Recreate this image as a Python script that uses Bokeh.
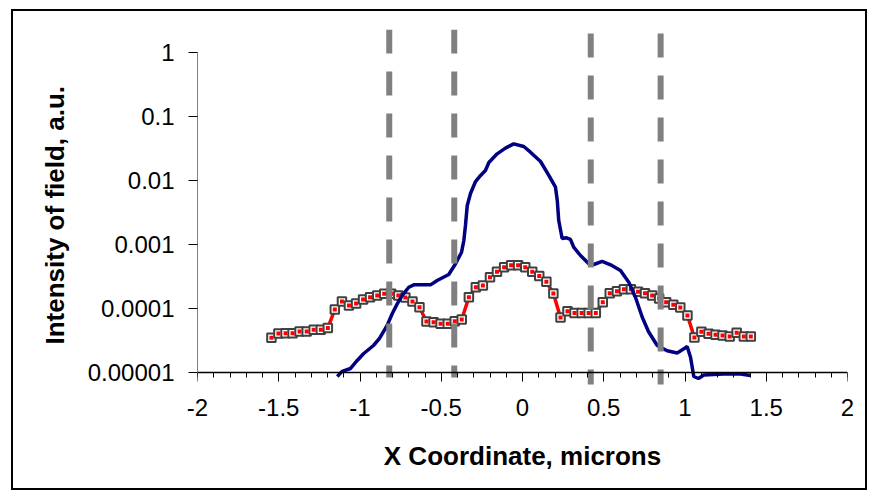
from bokeh.plotting import figure
from bokeh.models import (LinearAxis, LogAxis, FixedTicker, SingleIntervalTicker,
                          CustomJSTickFormatter, Range1d, InlineStyleSheet)
from bokeh.embed import file_html
from bokeh.resources import INLINE

# ---- data ----
red_x = [-1.545, -1.502, -1.458, -1.415, -1.372, -1.328, -1.285, -1.241, -1.198, -1.155,
         -1.111, -1.068, -1.024, -0.981, -0.938, -0.894, -0.851, -0.808, -0.764, -0.721,
         -0.677, -0.634, -0.591, -0.547, -0.504, -0.460, -0.417, -0.374, -0.330, -0.287,
         -0.244, -0.200, -0.157, -0.113, -0.070, -0.027, 0.017, 0.060, 0.103, 0.147,
         0.190, 0.234, 0.277, 0.320, 0.364, 0.407, 0.451, 0.494, 0.537, 0.581,
         0.624, 0.667, 0.711, 0.754, 0.798, 0.841, 0.884, 0.928, 0.971, 1.015,
         1.058, 1.101, 1.145, 1.188, 1.231, 1.275, 1.318, 1.362, 1.405]
red_y = [3.48e-5, 4.06e-5, 4.11e-5, 4.11e-5, 4.37e-5, 4.37e-5, 4.65e-5, 4.65e-5, 4.96e-5, 9.64e-5,
         1.285e-4, 1.114e-4, 1.197e-4, 1.38e-4, 1.50e-4, 1.60e-4, 1.70e-4, 1.70e-4, 1.60e-4, 1.49e-4,
         1.285e-4, 1.047e-4, 6.27e-5, 6.11e-5, 5.77e-5, 5.77e-5, 6.34e-5, 6.73e-5, 1.50e-4, 2.14e-4,
         2.29e-4, 3.08e-4, 3.74e-4, 4.42e-4, 4.75e-4, 4.75e-4, 4.42e-4, 3.74e-4, 3.22e-4, 2.61e-4,
         1.72e-4, 7.23e-5, 9.07e-5, 8.51e-5, 8.51e-5, 8.51e-5, 8.51e-5, 1.25e-4, 1.73e-4, 1.86e-4,
         2.00e-4, 2.00e-4, 1.83e-4, 1.73e-4, 1.60e-4, 1.43e-4, 1.25e-4, 1.14e-4, 1.04e-4, 7.78e-5,
         3.52e-5, 4.32e-5, 4.02e-5, 3.88e-5, 3.79e-5, 3.65e-5, 4.17e-5, 3.65e-5, 3.65e-5]

blue_x = [-1.140, -1.110, -1.058, -1.017, -0.977, -0.917, -0.880, -0.833, -0.802, -0.771,
          -0.740, -0.700, -0.669, -0.566, -0.525, -0.454, -0.412, -0.375, -0.361, -0.351,
          -0.340, -0.320, -0.289, -0.258, -0.228, -0.207, -0.156, -0.105, -0.054, 0.008,
          0.049, 0.111, 0.162, 0.203, 0.214, 0.223, 0.244, 0.271, 0.295, 0.316,
          0.357, 0.408, 0.439, 0.490, 0.542, 0.603, 0.654, 0.695, 0.737, 0.775,
          0.829, 0.890, 0.952, 0.993, 1.013, 1.034, 1.054, 1.083, 1.116, 1.237,
          1.342, 1.403]
blue_y = [8.66e-6, 1.04e-5, 1.155e-5, 1.54e-5, 1.98e-5, 2.64e-5, 3.40e-5, 5.43e-5, 8.26e-5, 1.18e-4,
          1.60e-4, 2.15e-4, 2.34e-4, 2.34e-4, 2.74e-4, 3.40e-4, 4.99e-4, 7.58e-4, 1.155e-3, 1.98e-3,
          4.07e-3, 6.26e-3, 9.64e-3, 1.20e-2, 1.43e-2, 1.91e-2, 2.61e-2, 3.20e-2, 3.74e-2, 3.40e-2,
          2.77e-2, 1.98e-2, 1.20e-2, 7.85e-3, 4.87e-3, 2.37e-3, 1.24e-3, 1.27e-3, 1.20e-3, 8.98e-4,
          6.73e-4, 4.99e-4, 4.87e-4, 5.43e-4, 4.82e-4, 3.92e-4, 2.58e-4, 1.50e-4, 7.31e-5, 4.37e-5,
          2.64e-5, 2.18e-5, 2.02e-5, 2.34e-5, 2.55e-5, 1.73e-5, 8.66e-6, 8.05e-6, 9.14e-6, 9.48e-6,
          9.5e-6, 8.98e-6]

dash_x = [-0.82, -0.42, 0.42, 0.85]
dash_top = [2.287, 2.287, 1.98, 1.98]
dash_bottom = [8.35e-6, 8.35e-6, 6.5e-6, 6.5e-6]

y_ticks = [1e-5, 1e-4, 1e-3, 1e-2, 1e-1, 1]
x_tick_step = 0.5
x_label = "X Coordinate, microns"
y_label = "Intensity of field, a.u.\u00a0\u00a0"

FONT = "Liberation Sans"

p = figure(width=878, height=498, output_backend="svg", toolbar_location=None,
           x_range=Range1d(-2, 2), y_range=Range1d(6.04e-6, 2.287),
           y_axis_type="log", x_axis_location=None, y_axis_location=None,
           min_border_left=197, min_border_right=31, min_border_top=29, min_border_bottom=112)
p.outline_line_color = None
p.background_fill_color = "white"
p.border_fill_color = "white"
p.xgrid.visible = False
p.ygrid.visible = False

# outer black border of the whole chart
p.stylesheets = [InlineStyleSheet(css=(
    ":host::after { content: ''; position: absolute; left: 11px; top: 9px; "
    "width: 856px; height: 481px; border: 2.5px solid black; box-sizing: border-box; "
    "pointer-events: none; z-index: 100; }"))]

# y axis (log)
yax = LogAxis(ticker=FixedTicker(ticks=y_ticks),
              formatter=CustomJSTickFormatter(code="return tick.toString()"),
              bounds=(1e-5, 1), axis_label=y_label)
yax.axis_line_color = "#808080"
yax.axis_line_width = 1
yax.major_tick_line_color = "black"
yax.major_tick_out = 9
yax.major_tick_in = 0
yax.minor_tick_line_color = None
yax.major_label_text_font = FONT
yax.major_label_text_font_size = "24px"
yax.major_label_text_color = "black"
yax.major_label_standoff = 14
yax.axis_label_text_font = FONT
yax.axis_label_text_font_size = "26px"
yax.axis_label_text_font_style = "bold"
yax.axis_label_text_color = "black"
yax.axis_label_standoff = 15
p.add_layout(yax, "left")

# x axis labels (at the frame bottom, no line/ticks)
xlab = LinearAxis(ticker=SingleIntervalTicker(interval=x_tick_step, num_minor_ticks=0),
                  formatter=CustomJSTickFormatter(code="return tick.toString()"),
                  axis_label=x_label)
xlab.axis_line_color = None
xlab.major_tick_line_color = None
xlab.minor_tick_line_color = None
xlab.major_tick_out = 0
xlab.major_tick_in = 0
xlab.major_label_text_font = FONT
xlab.major_label_text_font_size = "24px"
xlab.major_label_text_color = "black"
xlab.major_label_standoff = 12
xlab.axis_label_text_font = FONT
xlab.axis_label_text_font_size = "26px"
xlab.axis_label_text_font_style = "bold"
xlab.axis_label_text_color = "black"
xlab.axis_label_standoff = 22
p.add_layout(xlab, "below")

# x axis line and ticks at y = 1e-5
xax = LinearAxis(ticker=SingleIntervalTicker(interval=x_tick_step, num_minor_ticks=5),
                 formatter=CustomJSTickFormatter(code="return ''"),
                 fixed_location=1e-5, bounds=(-2, 2))
xax.axis_line_color = "black"
xax.axis_line_width = 1.5
xax.major_tick_line_color = "black"
xax.major_tick_out = 9
xax.major_tick_in = 0
xax.minor_tick_line_color = "black"
xax.minor_tick_out = 5
xax.minor_tick_in = 0
xax.major_label_text_font_size = "1px"
p.add_layout(xax, "below")

# red line with square markers
p.line(red_x, red_y, line_color="red", line_width=3.5)
p.scatter(red_x, red_y, marker="square", size=8.5, line_color="#404040", line_width=2,
          fill_color="white")
p.scatter(red_x, red_y, marker="square", size=4, line_color=None, fill_color="red")

# blue curve
p.line(blue_x, blue_y, line_color="#000080", line_width=3.5)

# dashed vertical guide lines
p.segment(x0=dash_x, y0=dash_top, x1=dash_x, y1=dash_bottom,
          line_color="#808080", line_width=6, line_dash="24 18")

open("out.html", "w").write(file_html(p, INLINE))
